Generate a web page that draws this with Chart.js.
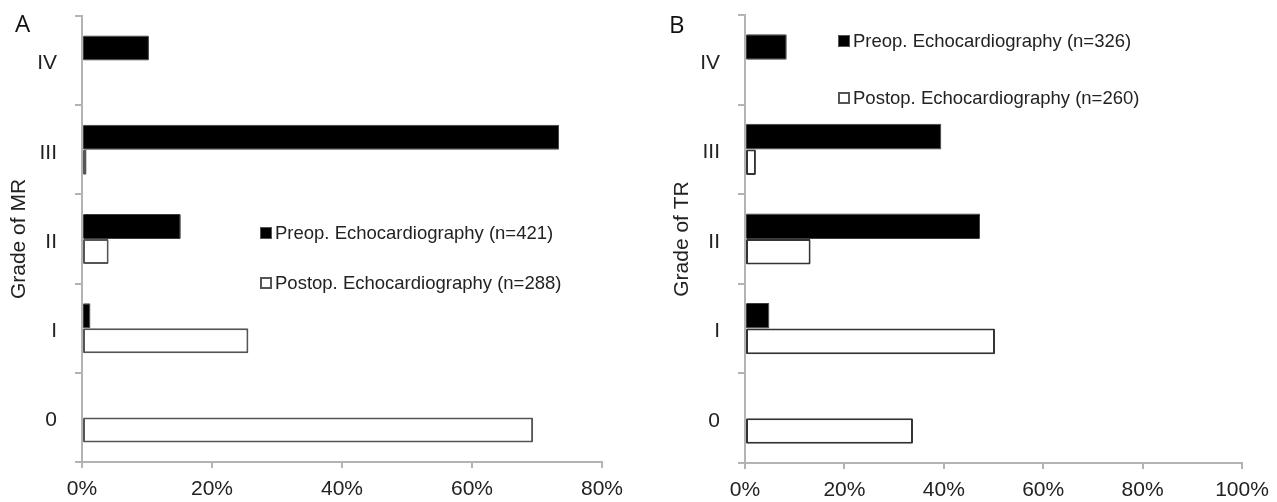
<!DOCTYPE html>
<html>
<head>
<meta charset="utf-8">
<script src="https://cdn.jsdelivr.net/npm/chart.js@4.4.1/dist/chart.umd.min.js"></script>
<style>
html,body{margin:0;padding:0;background:#fff;}
body{width:1277px;height:502px;position:relative;overflow:hidden;font-family:"Liberation Sans",Arial,sans-serif;}
canvas{position:absolute;top:0;}
#cA{left:0;}
#cB{left:640px;}
.panel{position:absolute;font-family:"Open Sans",sans-serif;font-size:24px;line-height:24px;color:#111;}
.leg{position:absolute;height:20px;font-size:18.5px;line-height:20px;color:#222;white-space:nowrap;display:flex;align-items:center;}
.sw{width:12px;height:12px;box-sizing:border-box;margin-right:3px;flex:none;}
</style>
</head>
<body>
<canvas id="cA" width="640" height="502"></canvas>
<canvas id="cB" width="637" height="502"></canvas>
<div class="panel" style="left:15px;top:11px;">A</div>
<div class="panel" style="left:669px;top:12px;">B</div>
<div id="legA"></div>
<div id="legB"></div>
<script>
// ---- data ----
const grades = ['IV', 'III', 'II', 'I', '0'];
const mrPreop  = [10.3, 73.4, 15.2, 1.3, 0];
const mrPostop = [0, 0.7, 4.1, 25.6, 69.4];
const trPreop  = [8.4, 39.5, 47.3, 4.9, 0];
const trPostop = [0, 2.2, 13.2, 50.3, 33.8];
const mrLegend = ['Preop. Echocardiography (n=421)', 'Postop. Echocardiography (n=288)'];
const trLegend = ['Preop. Echocardiography (n=326)', 'Postop. Echocardiography (n=260)'];
const mrTitle = 'Grade of MR';
const trTitle = 'Grade of TR';
const mrMax = 80;
const trMax = 100;
const tickStep = 20;

const AXIS = '#b3b3b3';
const TXT = '#222';
const FONT = '"Liberation Sans", Arial, sans-serif';

function makeChart(id, preop, postop, legend, xMax, yTitle, pad, xH, catPct, postBorder) {
  return new Chart(document.getElementById(id), {
    type: 'bar',
    data: {
      labels: grades,
      datasets: [
        { label: legend[0], data: preop, backgroundColor: '#000', borderColor: '#3c3c3c', borderWidth: 1, borderSkipped: false, borderRadius: 1 },
        { label: legend[1], data: postop, backgroundColor: '#fff', borderColor: postBorder, borderWidth: 2, borderSkipped: false, borderRadius: 1 }
      ]
    },
    options: {
      indexAxis: 'y',
      responsive: false,
      animation: false,
      devicePixelRatio: 1,
      layout: { padding: pad },
      plugins: { legend: { display: false }, tooltip: { enabled: false } },
      datasets: { bar: { categoryPercentage: catPct, barPercentage: 1.0 } },
      scales: {
        x: {
          type: 'linear', min: 0, max: xMax,
          afterFit: s => { s.height = xH; s.paddingLeft = 0; s.paddingRight = 0; },
          ticks: { stepSize: tickStep, padding: 9, color: TXT, font: { family: FONT, size: 21 }, callback: v => v + '%' },
          grid: { drawOnChartArea: false, drawTicks: true, tickLength: 6, color: AXIS, tickColor: AXIS, lineWidth: 2 },
          border: { display: true, color: AXIS, width: 2 }
        },
        y: {
          type: 'category', offset: true,
          afterFit: s => { s.width = 82; s.paddingTop = 0; s.paddingBottom = 0; },
          ticks: { padding: 18, labelOffset: 3, color: TXT, font: { family: FONT, size: 21 } },
          grid: { offset: true, drawOnChartArea: false, drawTicks: true, tickLength: 7, color: AXIS, tickColor: AXIS, lineWidth: 2 },
          border: { display: true, color: AXIS, width: 2 },
          title: { display: true, text: yTitle, color: TXT, font: { family: FONT, size: 21, lineHeight: 1.2 }, padding: { top: 7, bottom: 0 } }
        }
      }
    }
  });
}

makeChart('cA', mrPreop, mrPostop, mrLegend, mrMax, mrTitle, { left: 0, right: 38, top: 16, bottom: 0 }, 40, 0.56, '#555');
makeChart('cB', trPreop, trPostop, trLegend, trMax, trTitle, { left: 23, right: 35, top: 15, bottom: 0 }, 39, 0.57, '#333');

function makeLegend(hostId, labels, left, tops) {
  const host = document.getElementById(hostId);
  const styles = [
    'background:#000;border:1px solid #555;',
    'background:#fff;border:2px solid #555;'
  ];
  labels.forEach((t, i) => {
    const row = document.createElement('div');
    row.className = 'leg';
    row.style.left = left + 'px';
    row.style.top = tops[i] + 'px';
    const sw = document.createElement('span');
    sw.className = 'sw';
    sw.style.cssText = styles[i];
    const tx = document.createElement('span');
    tx.textContent = t;
    row.appendChild(sw);
    row.appendChild(tx);
    host.appendChild(row);
  });
}
makeLegend('legA', mrLegend, 260, [223, 273]);
makeLegend('legB', trLegend, 838, [31, 88]);
</script>
</body>
</html>
